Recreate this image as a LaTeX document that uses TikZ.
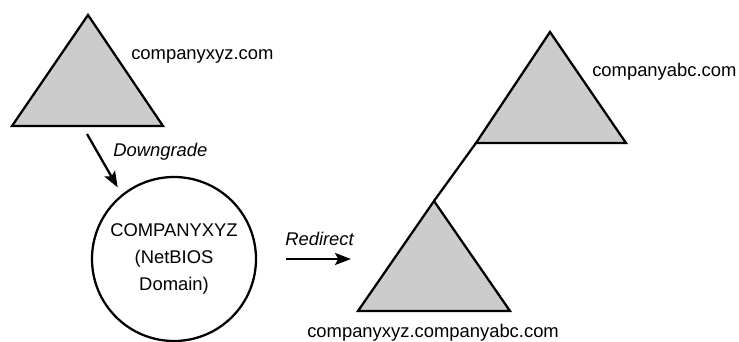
\documentclass[tikz,border=0pt]{standalone}
\usepackage{fontspec}
\setmainfont{Liberation Sans}
\usetikzlibrary{arrows.meta}

\begin{document}
\begin{tikzpicture}
[
  x=0.75pt, y=-0.75pt,
	tree/.style={line width=1.7pt,fill=black!20},
	link/.style={line width=1.7pt},
	move/.style={line width=1.7pt,-{Stealth[length=12pt,width=9pt,inset=2.5pt]}},
	lbl/.style={inner sep=0pt,font=\fontsize{13.8}{20}\selectfont},
	act/.style={inner sep=0pt,font=\fontsize{13.8}{20}\selectfont\itshape}
]
\useasboundingbox (0,0) rectangle (739,342);

% old forest
\draw[tree] (12,126) coordinate (xyzL) -- (88,15) coordinate (xyzTop) -- (163,126) coordinate (xyzR) -- cycle;
\node[lbl,anchor=base west] (xyzName) at (131,60) {companyxyz.com};

% NetBIOS domain
\node[circle,draw,line width=1.7pt,minimum size=164pt*0.75,align=center,lbl,
  font=\fontsize{13.8}{20.5}\selectfont] (netbios) at (174,259) {COMPANYXYZ\\(NetBIOS\\Domain)};

\coordinate (dgFrom) at (87,134);
\draw[move,shorten >=6pt] (dgFrom) -- (netbios.129);
\node[act,anchor=base west] (dgName) at (113,157) {Downgrade};

% new forest
\draw[tree] (476,143) coordinate (abcL) -- (550,32) coordinate (abcTop) -- (626,143) coordinate (abcR) -- cycle;
\node[lbl,anchor=base west] (abcName) at (592,77) {companyabc.com};

\draw[tree] (358,311) coordinate (subL) -- (434,201) coordinate (subTop) -- (510,311) coordinate (subR) -- cycle;
\node[lbl,anchor=base west] (subName) at (307,337) {companyxyz.companyabc.com};

\draw[link] (subTop) -- (abcL);

\coordinate (rdFrom) at (286,259);
\coordinate (rdTo) at (351,259);
\draw[move] (rdFrom) -- (rdTo);
\node[act,anchor=base west] (rdName) at (285,245) {Redirect};

\end{tikzpicture}
\end{document}
